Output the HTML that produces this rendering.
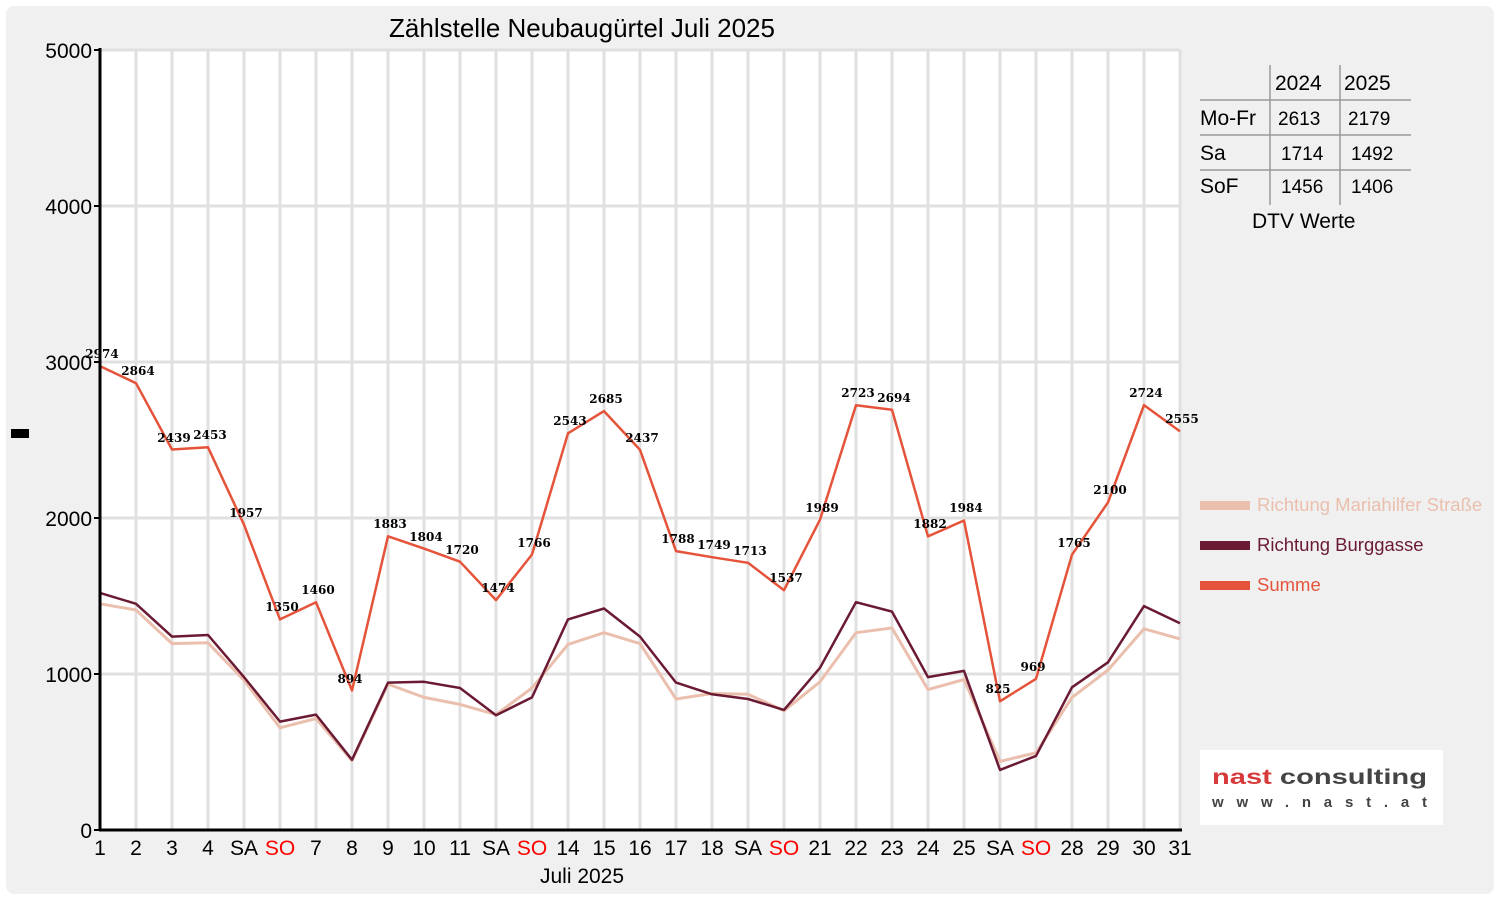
<!DOCTYPE html>
<html><head><meta charset="utf-8"><style>
html,body{margin:0;padding:0;background:#fff;}
svg{display:block;}
</style></head><body>
<svg width="1500" height="900" xmlns="http://www.w3.org/2000/svg" font-family="'Liberation Sans',sans-serif">
<rect x="6" y="6" width="1488" height="888" rx="8" fill="#f0f0f0"/>
<rect x="100" y="50" width="1080" height="780" fill="#fff"/>
<g stroke="#e0e0e0" stroke-width="3">
<line x1="136" y1="50" x2="136" y2="830"/><line x1="172" y1="50" x2="172" y2="830"/><line x1="208" y1="50" x2="208" y2="830"/><line x1="244" y1="50" x2="244" y2="830"/><line x1="280" y1="50" x2="280" y2="830"/><line x1="316" y1="50" x2="316" y2="830"/><line x1="352" y1="50" x2="352" y2="830"/><line x1="388" y1="50" x2="388" y2="830"/><line x1="424" y1="50" x2="424" y2="830"/><line x1="460" y1="50" x2="460" y2="830"/><line x1="496" y1="50" x2="496" y2="830"/><line x1="532" y1="50" x2="532" y2="830"/><line x1="568" y1="50" x2="568" y2="830"/><line x1="604" y1="50" x2="604" y2="830"/><line x1="640" y1="50" x2="640" y2="830"/><line x1="676" y1="50" x2="676" y2="830"/><line x1="712" y1="50" x2="712" y2="830"/><line x1="748" y1="50" x2="748" y2="830"/><line x1="784" y1="50" x2="784" y2="830"/><line x1="820" y1="50" x2="820" y2="830"/><line x1="856" y1="50" x2="856" y2="830"/><line x1="892" y1="50" x2="892" y2="830"/><line x1="928" y1="50" x2="928" y2="830"/><line x1="964" y1="50" x2="964" y2="830"/><line x1="1000" y1="50" x2="1000" y2="830"/><line x1="1036" y1="50" x2="1036" y2="830"/><line x1="1072" y1="50" x2="1072" y2="830"/><line x1="1108" y1="50" x2="1108" y2="830"/><line x1="1144" y1="50" x2="1144" y2="830"/><line x1="1180" y1="50" x2="1180" y2="830"/>
<line x1="100" y1="674" x2="1180" y2="674"/><line x1="100" y1="518" x2="1180" y2="518"/><line x1="100" y1="362" x2="1180" y2="362"/><line x1="100" y1="206" x2="1180" y2="206"/><line x1="100" y1="50" x2="1180" y2="50"/>
</g>
<g fill="none" stroke-width="3" stroke-linejoin="round">
<polyline stroke="#ebbfae" points="100,603.8 136,610 172,643.6 208,642.8 244,680.2 280,727.8 316,718.5 352,760.6 388,684.1 424,697.4 460,704.4 496,714.6 532,688 568,644.4 604,632.7 640,643.6 676,699 712,693.5 748,694.3 784,710.7 820,681.8 856,632.7 892,628 928,689.6 964,679.5 1000,761.4 1036,752.8 1072,697.4 1108,670.1 1144,628.8 1180,638.9"/>
<polyline stroke="#6b1a33" stroke-width="2.5" points="100,592.9 136,603.8 172,636.6 208,635 244,677.1 280,721.6 316,714.6 352,759.8 388,682.6 424,681.8 460,688 496,715.3 532,697.4 568,619.4 604,608.5 640,636.6 676,682.6 712,694.3 748,699 784,709.9 820,667.8 856,602.2 892,611.6 928,677.1 964,670.9 1000,769.9 1036,755.9 1072,687.3 1108,662.3 1144,606.1 1180,623.3"/>
<polyline stroke="#e5533a" stroke-width="2.5" points="100,366.1 136,383.2 172,449.5 208,447.3 244,524.7 280,619.4 316,602.2 352,690.5 388,536.3 424,548.6 460,561.7 496,600.1 532,554.5 568,433.3 604,411.1 640,449.8 676,551.1 712,557.2 748,562.8 784,590.2 820,519.7 856,405.2 892,409.7 928,536.4 964,520.5 1000,701.3 1036,678.8 1072,554.7 1108,502.4 1144,405.1 1180,431.4"/>
</g>
<g font-size="12" font-weight="bold" fill="#000" text-anchor="middle" font-family="'DejaVu Serif','Liberation Serif',serif">
<text x="102" y="358">2974</text><text x="138" y="375">2864</text><text x="174" y="442">2439</text><text x="210" y="439">2453</text><text x="246" y="517">1957</text><text x="282" y="611">1350</text><text x="318" y="594">1460</text><text x="350" y="683">894</text><text x="390" y="528">1883</text><text x="426" y="541">1804</text><text x="462" y="554">1720</text><text x="498" y="592">1474</text><text x="534" y="547">1766</text><text x="570" y="425">2543</text><text x="606" y="403">2685</text><text x="642" y="442">2437</text><text x="678" y="543">1788</text><text x="714" y="549">1749</text><text x="750" y="555">1713</text><text x="786" y="582">1537</text><text x="822" y="512">1989</text><text x="858" y="397">2723</text><text x="894" y="402">2694</text><text x="930" y="528">1882</text><text x="966" y="512">1984</text><text x="998" y="693">825</text><text x="1033" y="671">969</text><text x="1074" y="547">1765</text><text x="1110" y="494">2100</text><text x="1146" y="397">2724</text><text x="1182" y="423">2555</text>
</g>
<g stroke="#000" stroke-width="3"><line x1="100" y1="48" x2="100" y2="831"/><line x1="99" y1="830" x2="1182" y2="830"/></g>
<g stroke="#000" stroke-width="2">
<line x1="94" y1="830" x2="100" y2="830"/><line x1="94" y1="674" x2="100" y2="674"/><line x1="94" y1="518" x2="100" y2="518"/><line x1="94" y1="362" x2="100" y2="362"/><line x1="94" y1="206" x2="100" y2="206"/><line x1="94" y1="50" x2="100" y2="50"/>
</g>
<g font-size="21" text-anchor="end" fill="#000">
<text x="92" y="838">0</text><text x="92" y="682">1000</text><text x="92" y="526">2000</text><text x="92" y="370">3000</text><text x="92" y="214">4000</text><text x="92" y="58">5000</text>
</g>
<g font-size="21" text-anchor="middle" fill="#000">
<text x="100" y="855">1</text><text x="136" y="855">2</text><text x="172" y="855">3</text><text x="208" y="855">4</text><text x="244" y="855">SA</text><text x="280" y="855" fill="#f00">SO</text><text x="316" y="855">7</text><text x="352" y="855">8</text><text x="388" y="855">9</text><text x="424" y="855">10</text><text x="460" y="855">11</text><text x="496" y="855">SA</text><text x="532" y="855" fill="#f00">SO</text><text x="568" y="855">14</text><text x="604" y="855">15</text><text x="640" y="855">16</text><text x="676" y="855">17</text><text x="712" y="855">18</text><text x="748" y="855">SA</text><text x="784" y="855" fill="#f00">SO</text><text x="820" y="855">21</text><text x="856" y="855">22</text><text x="892" y="855">23</text><text x="928" y="855">24</text><text x="964" y="855">25</text><text x="1000" y="855">SA</text><text x="1036" y="855" fill="#f00">SO</text><text x="1072" y="855">28</text><text x="1108" y="855">29</text><text x="1144" y="855">30</text><text x="1180" y="855">31</text>
<text x="582" y="883">Juli 2025</text>
<text x="582" y="37" font-size="26">Zählstelle Neubaugürtel Juli 2025</text>
</g>
<rect x="11" y="429" width="18" height="9" fill="#000"/>
<g stroke="#999" stroke-width="1.5">
<line x1="1270" y1="65" x2="1270" y2="205"/><line x1="1340" y1="65" x2="1340" y2="205"/>
<line x1="1200" y1="100" x2="1411" y2="100"/><line x1="1200" y1="135" x2="1411" y2="135"/><line x1="1200" y1="170" x2="1411" y2="170"/>
</g>
<g font-size="21" fill="#000">
<text x="1275" y="90">2024</text><text x="1344" y="90">2025</text>
<text x="1200" y="125">Mo-Fr</text><text x="1200" y="160">Sa</text><text x="1200" y="193">SoF</text>
<text x="1252" y="228">DTV Werte</text>
</g>
<g font-size="19" fill="#000">
<text x="1278" y="125">2613</text><text x="1348" y="125">2179</text>
<text x="1281" y="160">1714</text><text x="1351" y="160">1492</text>
<text x="1281" y="193">1456</text><text x="1351" y="193">1406</text>
</g>
<rect x="1200" y="501" width="50" height="9" fill="#ebbfae"/>
<rect x="1200" y="541" width="50" height="9" fill="#6b1a33"/>
<rect x="1200" y="581" width="50" height="9" fill="#e5533a"/>
<g font-size="18.5">
<text x="1257" y="511" fill="#ebbfae">Richtung Mariahilfer Straße</text>
<text x="1257" y="551" fill="#6b1a33">Richtung Burggasse</text>
<text x="1257" y="591" fill="#e5533a">Summe</text>
</g>
<rect x="1200" y="750" width="243" height="75" fill="#fff"/>
<text x="1212" y="784" font-size="21" font-weight="bold" fill="#d63a3a" textLength="215" lengthAdjust="spacingAndGlyphs">nast <tspan fill="#444">consulting</tspan></text>
<text x="1212" y="807" font-size="15" font-weight="bold" fill="#444" textLength="215">www.nast.at</text>
</svg>
</body></html>
